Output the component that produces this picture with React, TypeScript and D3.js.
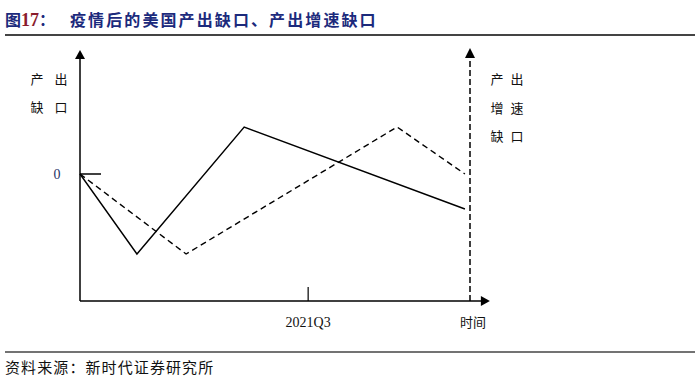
import * as d3 from "d3";

// schematic data: x in quarters-ish units, y relative gap
const outputGapX = [0, 1.46, 4.21, 9.87];
const outputGapY = [0, -0.8, 0.47, -0.35];
const growthGapX = [0, 2.72, 8.13, 9.87];
const growthGapY = [0, -0.8, 0.47, 0];
const tickValues = [5.85];
const tickLabels = ["2021Q3"];

const W = 700;
const H = 390;
const cjk = "'Noto Sans CJK SC', sans-serif";
const serif = "'Liberation Serif', 'DejaVu Serif', serif";

const App = () => {
  const x = d3.scaleLinear().domain([0, 10]).range([80, 470]);
  const y = d3.scaleLinear().domain([-1.27, 1.24]).range([301, 50]);

  const line = d3
    .line<[number, number]>()
    .x((d) => x(d[0]))
    .y((d) => y(d[1]));

  const solid = d3.zip(outputGapX, outputGapY) as [number, number][];
  const dashed = d3.zip(growthGapX, growthGapY) as [number, number][];

  const x0 = x(0);
  const yBase = y(-1.27);
  const xEnd = x(10.51);
  const xRight = x(10);
  const yTop = y(1.24);

  return (
    <svg
      width={W}
      height={H}
      style={{ position: "absolute", left: 0, top: 0, background: "#fff" }}
    >
      {/* title */}
      <text x={5} y={26} fontFamily={cjk} fontWeight="bold" fontSize={16} fill="#1c2a7c">
        图<tspan fill="#8a1c2c" fontFamily={serif} fontSize={18}>17</tspan>：
        <tspan x={70} letterSpacing={2.1}>疫情后的美国产出缺口、产出增速缺口</tspan>
      </text>
      <line x1={5} x2={695} y1={35} y2={35} stroke="#444" strokeWidth={2} />

      {/* left axis */}
      <line x1={x0} x2={x0} y1={yBase} y2={yTop + 6} stroke="#000" strokeWidth={1.5} />
      <path d={`M${x0},${yTop} L${x0 - 5},${yTop + 9} L${x0 + 5},${yTop + 9} Z`} fill="#000" />
      {/* bottom axis */}
      <line x1={x0} x2={xEnd - 6} y1={yBase} y2={yBase} stroke="#000" strokeWidth={1.5} />
      <path d={`M${xEnd},${yBase} L${xEnd - 9},${yBase - 5} L${xEnd - 9},${yBase + 5} Z`} fill="#000" />
      {/* right dashed axis */}
      <line
        x1={xRight}
        x2={xRight}
        y1={yBase}
        y2={yTop + 4}
        stroke="#000"
        strokeWidth={1.5}
        strokeDasharray="6,3"
      />
      <path
        d={`M${xRight},${yTop - 2} L${xRight - 5},${yTop + 8} L${xRight + 5},${yTop + 8} Z`}
        fill="#000"
      />

      {/* zero mark */}
      <line x1={x0} x2={x0 + 21} y1={y(0)} y2={y(0)} stroke="#000" strokeWidth={1.5} />
      <text x={57} y={y(0) + 5} fontFamily={serif} fontSize={14} fill="#1f3366" textAnchor="middle">
        0
      </text>

      {/* x ticks */}
      {tickValues.map((v, i) => (
        <g key={i}>
          <line x1={x(v)} x2={x(v)} y1={yBase - 14} y2={yBase} stroke="#000" strokeWidth={1.2} />
          <text x={x(v)} y={yBase + 26} fontFamily={serif} fontSize={14} textAnchor="middle" fill="#111">
            {tickLabels[i]}
          </text>
        </g>
      ))}
      <text x={473} y={yBase + 26} fontFamily={cjk} fontSize={13} textAnchor="middle" fill="#111">
        时间
      </text>

      {/* axis labels */}
      {[
        ["产", "出"],
        ["缺", "口"],
      ].map((row, i) =>
        row.map((c, j) => (
          <text
            key={`l${i}${j}`}
            x={37 + j * 24}
            y={84 + i * 28}
            fontFamily={cjk}
            fontSize={13}
            textAnchor="middle"
            fill="#111"
          >
            {c}
          </text>
        ))
      )}
      {[
        ["产", "出"],
        ["增", "速"],
        ["缺", "口"],
      ].map((row, i) =>
        row.map((c, j) => (
          <text
            key={`r${i}${j}`}
            x={497 + j * 20}
            y={84 + i * 28.5}
            fontFamily={cjk}
            fontSize={13}
            textAnchor="middle"
            fill="#111"
          >
            {c}
          </text>
        ))
      )}

      {/* series */}
      <path d={line(solid) ?? ""} fill="none" stroke="#000" strokeWidth={1.4} />
      <path d={line(dashed) ?? ""} fill="none" stroke="#000" strokeWidth={1.4} strokeDasharray="6,4" />

      {/* source */}
      <line x1={5} x2={695} y1={352} y2={352} stroke="#444" strokeWidth={1.5} />
      <text x={5} y={373} fontFamily={cjk} fontSize={15} letterSpacing={1.1} fill="#111">
        资料来源：新时代证券研究所
      </text>
    </svg>
  );
};

export default App;
